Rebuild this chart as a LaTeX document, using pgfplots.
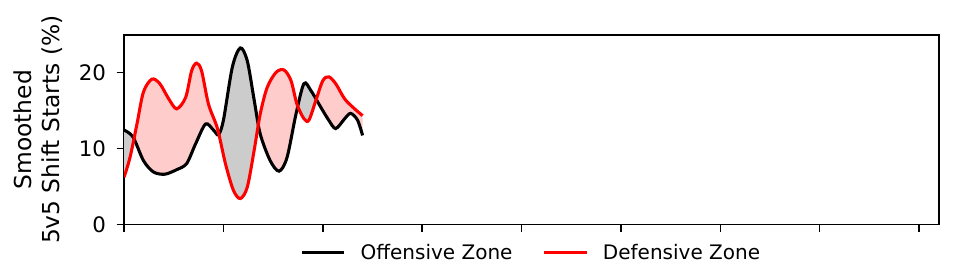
\documentclass[border=0pt]{standalone}
\usepackage{pgfplots}
\pgfplotsset{compat=1.18}
\usepgfplotslibrary{fillbetween}
\usepackage{fontspec}
\setmainfont{DejaVu Sans}
\definecolor{pinkfill}{HTML}{FFCCCC}
\definecolor{grayfill}{HTML}{CCCCCC}
\begin{document}
\begin{tikzpicture}
\begin{axis}[
  name=ax,
  set layers,
  scale only axis,
  width=611pt, height=142pt,
  xmin=0, xmax=82, ymin=0, ymax=24.9,
  xtick={0,10,...,80}, xticklabels={},
  ytick={0,10,20},
  tick align=outside,
  xtick pos=left, ytick pos=left,
  major tick length=5.5pt,
  axis line style={line width=1.1pt},
  every tick/.style={line width=1.1pt, black},
  /pgf/number format/assume math mode=true,
  tick label style={font=\fontsize{16}{19}\selectfont},
  yticklabel style={xshift=-4.5pt},
  ylabel={Smoothed\\5v5 Shift Starts (\%)},
  ylabel style={align=center, font=\fontsize{17.5}{21}\selectfont, yshift=5pt},
  legend style={at={(0.5,-0.075)}, anchor=north, draw=none, fill=none,
    legend columns=2, font=\fontsize{15}{18}\selectfont,
    /tikz/every odd column/.append style={column sep=9pt},
    /tikz/every even column/.append style={column sep=20.5pt}},
  legend image code/.code={\draw[#1] (0pt,0pt) -- (32pt,0pt);},
]
\addplot[name path=off, black, line width=2.3pt, smooth, tension=0.5] coordinates {
(0,12.4) (0.9,11.5) (1.95,8.4) (2.95,6.9) (4.1,6.6) (5.3,7.2) (6.3,8.0)
(7.2,10.6) (8.2,13.2) (9.0,12.4) (9.5,11.8) (10.0,13.7) (10.9,20.7)
(11.7,23.2) (12.4,21.5) (13.1,16.3) (13.7,11.9) (14.7,8.4) (15.6,7.0)
(16.4,8.8) (17.3,14.5) (18.1,18.5) (18.8,17.6) (19.8,15.4) (20.6,13.7)
(21.3,12.6) (22.2,13.9) (22.8,14.6) (23.5,13.7) (24.0,11.7)
};
\addlegendentry{Offensive Zone}
\addplot[name path=def, red, line width=2.3pt, smooth, tension=0.5] coordinates {
(0,6.2) (0.6,8.8) (1.3,13.2) (1.95,17.4) (2.8,19.1) (3.6,18.5) (4.5,16.5)
(5.3,15.2) (6.2,16.7) (6.8,20.2) (7.3,21.2) (7.8,20.2) (8.5,15.8)
(9.4,12.6) (10.2,8.0) (11.0,4.5) (11.7,3.4) (12.4,4.9) (13.1,9.8)
(13.7,14.5) (14.4,18.0) (15.3,20.0) (16.1,20.3) (16.8,18.9) (17.4,15.8)
(18.1,13.9) (18.6,13.7) (19.3,16.3) (20.0,18.9) (20.6,19.4) (21.3,18.5)
(22.2,16.5) (23.2,15.2) (24.0,14.3)
};
\addlegendentry{Defensive Zone}
\addplot[forget plot, draw=none] fill between[of=off and def, split,
  every even segment/.style={grayfill},
  every odd segment/.style={pinkfill}];
\end{axis}
\pgfresetboundingbox
\path ([shift={(-93pt,-41.25pt)}]ax.south west) rectangle ([shift={(21pt,26.25pt)}]ax.north east);
\end{tikzpicture}
\end{document}
